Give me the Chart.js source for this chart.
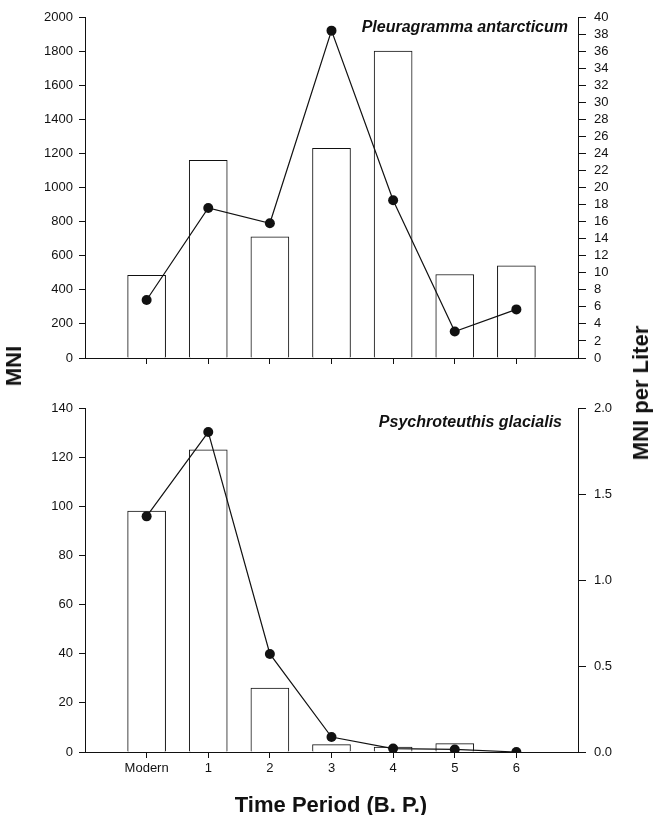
<!DOCTYPE html>
<html>
<head>
<meta charset="utf-8">
<script src="https://cdn.jsdelivr.net/npm/chart.js@4"></script>
<style>
  body { margin: 0; background: #fff; font-family: "Liberation Sans", Arial, sans-serif; }
  #wrap { position: relative; width: 653px; height: 815px; }
  canvas { position: absolute; left: 0; }
  .species { position: absolute; font: italic bold 16px "Liberation Sans", Arial, sans-serif; color: #111; white-space: nowrap; }
  .ttl { position: absolute; font: bold 22px "Liberation Sans", Arial, sans-serif; color: #111; white-space: nowrap; }
  .rot { transform: translate(-50%, -50%) rotate(-90deg); }
</style>
</head>
<body>
<div id="wrap">
  <canvas id="top-chart" width="653" height="380" style="top:0"></canvas>
  <canvas id="bot-chart" width="653" height="435" style="top:380px"></canvas>
  <div class="species" style="right:85px; top:18px;">Pleuragramma antarcticum</div>
  <div class="species" style="right:91px; top:413px;">Psychroteuthis glacialis</div>
  <div class="ttl rot" style="left:14px; top:366px;">MNI</div>
  <div class="ttl rot" style="left:641px; top:393px;">MNI per Liter</div>
  <div class="ttl" style="left:331px; top:805px; transform: translate(-50%, -50%);">Time Period (B. P.)</div>
</div>
<script>
// ── Data ──────────────────────────────────────────────────
const periods = ['Modern', '1', '2', '3', '4', '5', '6'];

// Pleuragramma antarcticum
const pleuraMNI      = [485, 1160, 710, 1230, 1800, 490, 540];
const pleuraPerLiter = [6.8, 17.6, 15.8, 38.4, 18.5, 3.1, 5.7];

// Psychroteuthis glacialis
const psychroMNI      = [98, 123, 26, 3, 2, 3.4, 0];
const psychroPerLiter = [1.37, 1.86, 0.57, 0.087, 0.02, 0.015, 0];

const pleuraLeftTicks  = { min: 0, max: 2000, step: 200 };
const pleuraRightTicks = { min: 0, max: 40, step: 2 };
const psychroLeftTicks  = { min: 0, max: 140, step: 20 };
const psychroRightTicks = { min: 0, max: 2, step: 0.5 };

// one empty slot each side of the periods
const pad = arr => [null, ...arr, null];
const labels = ['', ...periods, ''];

const INK  = '#111';
const FONT = { family: '"Liberation Sans", Arial, sans-serif', size: 13 };

function tickColor(ctx) {
  return (ctx.index === 0 || ctx.index === labels.length - 1) ? 'transparent' : INK;
}

function makeChart(id, mni, perLiter, left, right, opts) {
  const ctx = document.getElementById(id).getContext('2d');
  return new Chart(ctx, {
    type: 'bar',
    data: {
      labels,
      datasets: [
        {
          type: 'line',
          data: pad(perLiter),
          yAxisID: 'y1',
          borderColor: INK,
          borderWidth: 1.2,
          pointRadius: 5,
          pointBackgroundColor: INK,
          pointBorderColor: INK,
          pointBorderWidth: 0,
          tension: 0,
          order: 0
        },
        {
          type: 'bar',
          data: pad(mni),
          yAxisID: 'y',
          backgroundColor: '#fff',
          borderColor: INK,
          borderWidth: 1,
          barThickness: 38,
          order: 1
        }
      ]
    },
    options: {
      responsive: false,
      animation: false,
      layout: { padding: { top: opts.top, left: 0, right: 0, bottom: 0 } },
      plugins: { legend: { display: false }, tooltip: { enabled: false } },
      scales: {
        x: {
          type: 'category',
          offset: false,
          grid: { offset: false, drawOnChartArea: false, drawTicks: true, tickLength: 6, color: tickColor },
          border: { display: true, color: INK, width: 1 },
          ticks: { display: opts.showX, color: INK, font: FONT, padding: 3, autoSkip: false, maxRotation: 0 },
          afterFit: s => { s.height = opts.xHeight; }
        },
        y: {
          position: 'left',
          min: left.min, max: left.max,
          grid: { drawOnChartArea: false, drawTicks: true, tickLength: 6, color: INK },
          border: { display: true, color: INK, width: 1 },
          ticks: {
            stepSize: left.step, maxTicksLimit: 50, autoSkip: false, color: INK, font: FONT, padding: 6,
            callback: v => String(v)
          },
          afterFit: s => { s.width = 85; }
        },
        y1: {
          position: 'right',
          min: right.min, max: right.max,
          grid: { drawOnChartArea: false, drawTicks: true, tickLength: 8, color: INK },
          border: { display: true, color: INK, width: 1 },
          ticks: {
            stepSize: right.step, maxTicksLimit: 50, autoSkip: false, color: INK, font: FONT, padding: 8,
            callback: v => opts.fixed ? Number(v).toFixed(1) : String(v)
          },
          afterFit: s => { s.width = 75; }
        }
      }
    }
  });
}

makeChart('top-chart', pleuraMNI, pleuraPerLiter, pleuraLeftTicks, pleuraRightTicks,
  { top: 17, xHeight: 22, showX: false, fixed: false });
makeChart('bot-chart', psychroMNI, psychroPerLiter, psychroLeftTicks, psychroRightTicks,
  { top: 28, xHeight: 63, showX: true, fixed: true });
</script>
</body>
</html>
